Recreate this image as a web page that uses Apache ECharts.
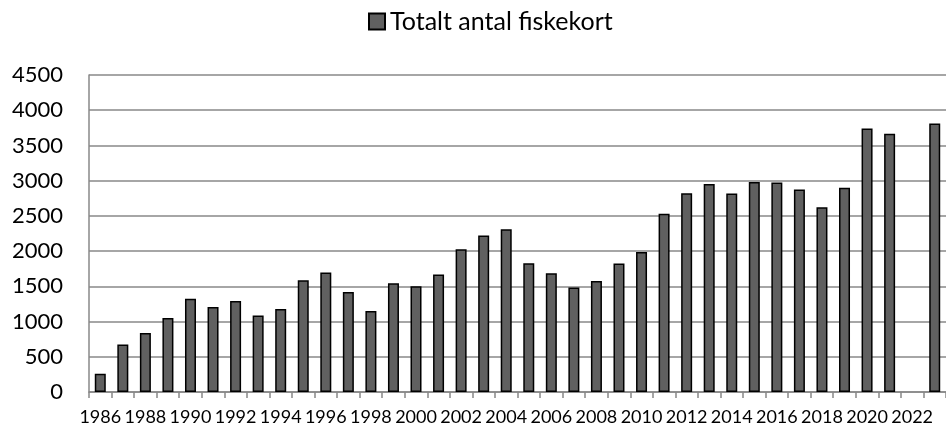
<!DOCTYPE html>
<html>
<head>
<meta charset="utf-8">
<script src="https://cdn.jsdelivr.net/npm/echarts@6/dist/echarts.min.js"></script>
<style>
  html, body { margin: 0; padding: 0; background: #fff; }
  #chart { width: 946px; height: 435px; }
</style>
</head>
<body>
<div id="chart"></div>
<script>
// år 1986-2023, 2022 saknas
const years = [];
for (let y = 1986; y <= 2023; y++) years.push(String(y));

const fiskekort = [
  260, 673, 838, 1052, 1322, 1208, 1293, 1085, 1180, 1587,
  1696, 1421, 1151, 1544, 1502, 1667, 2027, 2222, 2312, 1828,
  1686, 1483, 1577, 1824, 1989, 2530, 2823, 2951, 2818, 2980,
  2975, 2875, 2624, 2899, 3742, 3666, null, 3813,
];

const seriesName = 'Totalt antal fiskekort';

const chartDom = document.getElementById('chart');
const chartIns = echarts.init(chartDom, null, {renderer: 'canvas'});

const options = {
  animation: false,
  textStyle: {fontFamily: 'Lato'},
  legend: {
    top: 4,
    left: 363,
    itemWidth: 16,
    itemHeight: 16,
    itemGap: 6,
    icon: 'rect',
    textStyle: {fontSize: 25, color: '#000', fontFamily: 'Lato'},
    data: [seriesName],
  },
  grid: {
    left: 89,
    right: -2,
    top: 75,
    bottom: 43,
    containLabel: false,
  },
  xAxis: {
    type: 'category',
    data: years,
    boundaryGap: true,
    axisLine: {lineStyle: {color: '#888', width: 1.5}},
    axisTick: {show: true, interval: 0, length: 6, lineStyle: {color: '#888', width: 1.5}},
    axisLabel: {
      interval: 1,
      color: '#000',
      fontSize: 18,
      margin: 16,
    },
  },
  yAxis: {
    type: 'value',
    min: 0,
    max: 4500,
    interval: 500,
    axisLine: {show: true, lineStyle: {color: '#888', width: 1.5}},
    axisTick: {show: false},
    splitLine: {lineStyle: {color: '#888', width: 1.5}},
    axisLabel: {
      color: '#000',
      fontSize: 22,
      margin: 26,
      formatter: (v) => String(v),
    },
  },
  series: [
    {
      name: seriesName,
      type: 'bar',
      barWidth: 11,
      itemStyle: {
        color: '#606060',
        borderColor: '#000',
        borderWidth: 1.5,
      },
      data: fiskekort,
    },
  ],
};

chartIns.setOption(options);
window.addEventListener('resize', chartIns.resize);
</script>
</body>
</html>
